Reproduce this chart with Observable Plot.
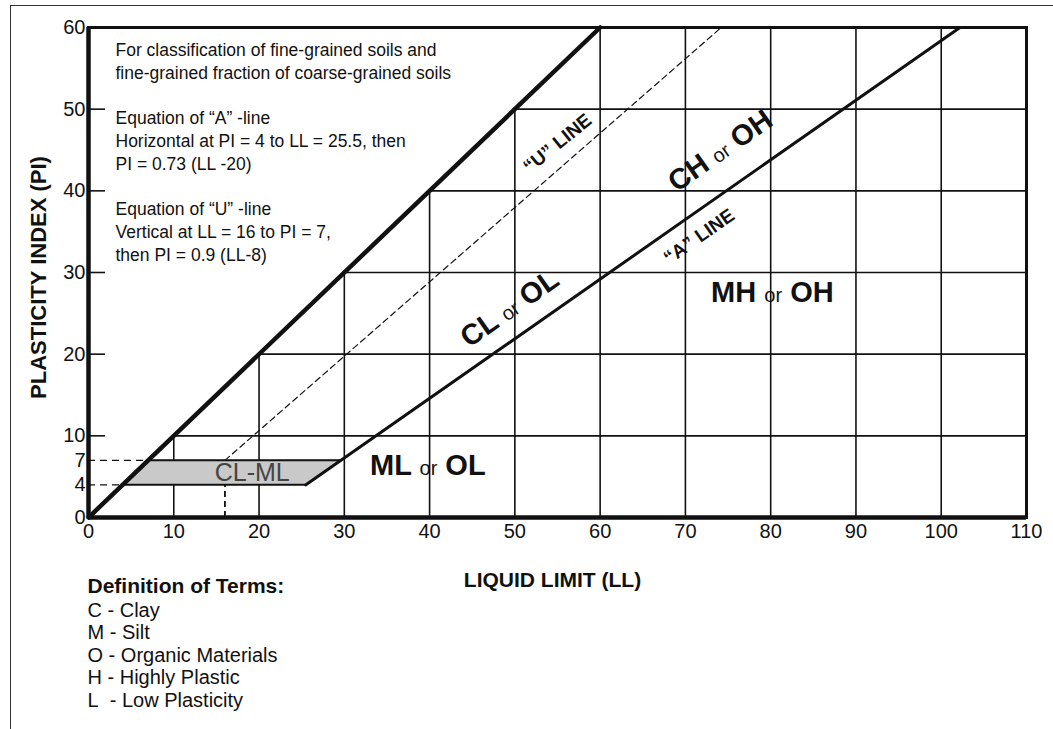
<!DOCTYPE html>
<html><head><meta charset="utf-8">
<script src="https://cdn.jsdelivr.net/npm/d3@7"></script>
<script src="https://cdn.jsdelivr.net/npm/@observablehq/plot@0.6"></script>
<style>
html,body{margin:0;padding:0;background:#fff;}
#wrap{position:relative;width:1053px;height:729px;overflow:hidden;}
#border{position:absolute;left:10px;top:5px;right:-5px;bottom:-5px;border-left:1.5px solid #333;border-top:1.5px solid #333;pointer-events:none;}
#chart{position:absolute;left:0;top:0;}
</style></head><body>
<div id="wrap"><div id="chart"></div><div id="border"></div></div>
<script>
// ---- data ----
const LL_TICKS = [0, 10, 20, 30, 40, 50, 60, 70, 80, 90, 100, 110];
const PI_TICKS = [0, 4, 7, 10, 20, 30, 40, 50, 60];
const GRID_LL = [10, 20, 30, 40, 50, 60, 70, 80, 90, 100];
const GRID_PI = [10, 20, 30, 40, 50];
const TICK_PI = [10, 20, 30, 40, 50];
const REF_PI = [4, 7];
const U_VERT_LL = [16];
const U_VERT_TOP = [4];
const LINE45_LL = [0, 60];
const LINE45_PI = [0, 60];
const U_LL = [16, 74.2];
const U_PI = [7, 60];
const A_LL = [25.5, 102.2];
const A_PI = [4, 60];
const CLML_PI = [4, 7];
const CLML_LEFT = [4, 7];
const CLML_RIGHT = [25.5, 29.6];

const ZONE_TEXT = ["CH or OH", "CL or OL", "MH or OH", "ML or OL"];
const ZONE_LL = [74.1, 49.4, 80.2, 39.8];
const ZONE_PI = [44.9, 25.6, 27.5, 6.4];
const ZONE_ANGLE = [-35, -35, 0, 0];

const LINE_TEXT = ["“U” LINE", "“A” LINE"];
const LINE_LL = [55.0, 71.6];
const LINE_PI = [45.8, 34.4];
const LINE_ANGLE = [-39, -35];

const CLML_TEXT = ["CL-ML"];
const CLML_TLL = [19.2];
const CLML_TPI = [5.5];

const NOTE_LINES = [
  "For classification of fine-grained soils and",
  "fine-grained fraction of coarse-grained soils",
  "",
  "Equation of “A” -line",
  "Horizontal at PI = 4 to LL = 25.5, then",
  "PI = 0.73 (LL -20)",
  "",
  "Equation of “U” -line",
  "Vertical at LL = 16 to PI = 7,",
  "then PI = 0.9 (LL-8)"
];
const TERMS_TITLE = "Definition of Terms:";
const TERMS = ["C - Clay", "M - Silt", "O - Organic Materials", "H - Highly Plastic", "L\u00a0 - Low Plasticity"];
const X_TITLE = "LIQUID LIMIT (LL)";
const Y_TITLE = "PLASTICITY INDEX (PI)";

// ---- build ----
const FONT = "'Liberation Sans', Arial, Helvetica, sans-serif";
const TICK_LEN = 2;
const pairs = (xs, ys) => xs.map((x, i) => [x, ys[i]]);
const clml = CLML_PI.map((p, i) => ({pi: p, lo: CLML_LEFT[i], hi: CLML_RIGHT[i]}));
const zones = ZONE_TEXT.map((t, i) => ({t, x: ZONE_LL[i], y: ZONE_PI[i], a: ZONE_ANGLE[i]}));
const lineLabels = LINE_TEXT.map((t, i) => ({t, x: LINE_LL[i], y: LINE_PI[i], a: LINE_ANGLE[i]}));
const clmlLabel = CLML_TEXT.map((t, i) => ({t, x: CLML_TLL[i], y: CLML_TPI[i]}));

const svg = Plot.plot({
  width: 1053, height: 729,
  marginLeft: 88, marginRight: 27, marginTop: 27, marginBottom: 212,
  style: {fontFamily: FONT, fontSize: "17px", background: "transparent", color: "#111"},
  x: {domain: [0, 110], axis: null},
  y: {domain: [0, 60], axis: null},
  marks: [
    Plot.ruleX(GRID_LL, {x: d => d, y1: 0, y2: d => Math.min(d, 60), strokeWidth: 1.6}),
    Plot.ruleY(GRID_PI, {y: d => d, x1: d => d, x2: 110, strokeWidth: 1.6}),
    Plot.ruleY(TICK_PI, {y: d => d, x1: 0, x2: TICK_LEN, strokeWidth: 1.6}),
    Plot.ruleY(REF_PI, {y: d => d, x1: 0, x2: d => d, strokeWidth: 1.4, strokeDasharray: "7,5"}),
    Plot.ruleX(U_VERT_LL, {x: d => d, y1: 0, y2: (d, i) => U_VERT_TOP[i], strokeWidth: 1.8, strokeDasharray: "6,4"}),
    Plot.line(pairs(U_LL, U_PI), {strokeWidth: 1.2, strokeDasharray: "6,4"}),
    Plot.areaX(clml, {y: "pi", x1: "lo", x2: "hi", fill: "#c9c9c9"}),
    Plot.ruleY(clml, {y: "pi", x1: "lo", x2: "hi", strokeWidth: 2}),
    Plot.line(pairs(A_LL, A_PI), {strokeWidth: 3}),
    Plot.line(pairs(LINE45_LL, LINE45_PI), {strokeWidth: 4.5}),
    Plot.frame({strokeWidth: 3}),
    Plot.ruleX([0], {strokeWidth: 4.5}),
    Plot.ruleY([0], {strokeWidth: 4.5}),
    // tick labels
    Plot.text(LL_TICKS, {x: d => d, text: d => String(d), frameAnchor: "bottom", textAnchor: "middle", lineAnchor: "top", dy: 6, fontSize: 20}),
    Plot.text(PI_TICKS, {y: d => d, text: d => String(d), frameAnchor: "left", textAnchor: "end", lineAnchor: "middle", dx: -3, fontSize: 20}),
    // region / line labels
    Plot.text(clmlLabel, {x: "x", y: "y", text: "t", fontSize: 25, fill: "#444"}),
    Plot.text(zones, {x: "x", y: "y", text: "t", rotate: "a", fontSize: 29, fontWeight: "bold"}),
    Plot.text(lineLabels, {x: "x", y: "y", text: "t", rotate: "a", fontSize: 19, fontWeight: "bold"}),
    // notes and titles
    Plot.text([NOTE_LINES.join("\n")], {text: d => d, frameAnchor: "top-left", dx: 27, dy: 233, textAnchor: "start", lineAnchor: "bottom", lineHeight: 1.3, fontSize: 17.5}),
    Plot.text([X_TITLE], {text: d => d, frameAnchor: "bottom", dx: -5, dy: 69, textAnchor: "middle", lineAnchor: "bottom", fontSize: 21, fontWeight: "bold"}),
    Plot.text([Y_TITLE], {text: d => d, frameAnchor: "left", dx: -50, dy: 5, textAnchor: "middle", rotate: -90, fontSize: 22, fontWeight: "bold"}),
    Plot.text([TERMS_TITLE], {text: d => d, frameAnchor: "bottom-left", dx: -1, dy: 75, textAnchor: "start", lineAnchor: "bottom", fontSize: 21, fontWeight: "bold"}),
    Plot.text([TERMS.join("\n")], {text: d => d, frameAnchor: "bottom-left", dx: -1, dy: 189, textAnchor: "start", lineAnchor: "bottom", lineHeight: 1.125, fontSize: 20})
  ]
});

// mixed-size "X or Y" labels: small regular "or"
svg.querySelectorAll("text").forEach(t => {
  const m = /^(\S+) or (\S+)$/.exec(t.textContent);
  if (!m || t.querySelector("tspan")) return;
  t.textContent = "";
  const ns = "http://www.w3.org/2000/svg";
  const a = document.createElementNS(ns, "tspan"); a.textContent = m[1] + " ";
  const b = document.createElementNS(ns, "tspan"); b.textContent = "or";
  b.setAttribute("font-size", "20"); b.setAttribute("font-weight", "normal");
  const c = document.createElementNS(ns, "tspan"); c.textContent = " " + m[2];
  t.append(a, b, c);
});

document.getElementById("chart").append(svg);
</script></body></html>
